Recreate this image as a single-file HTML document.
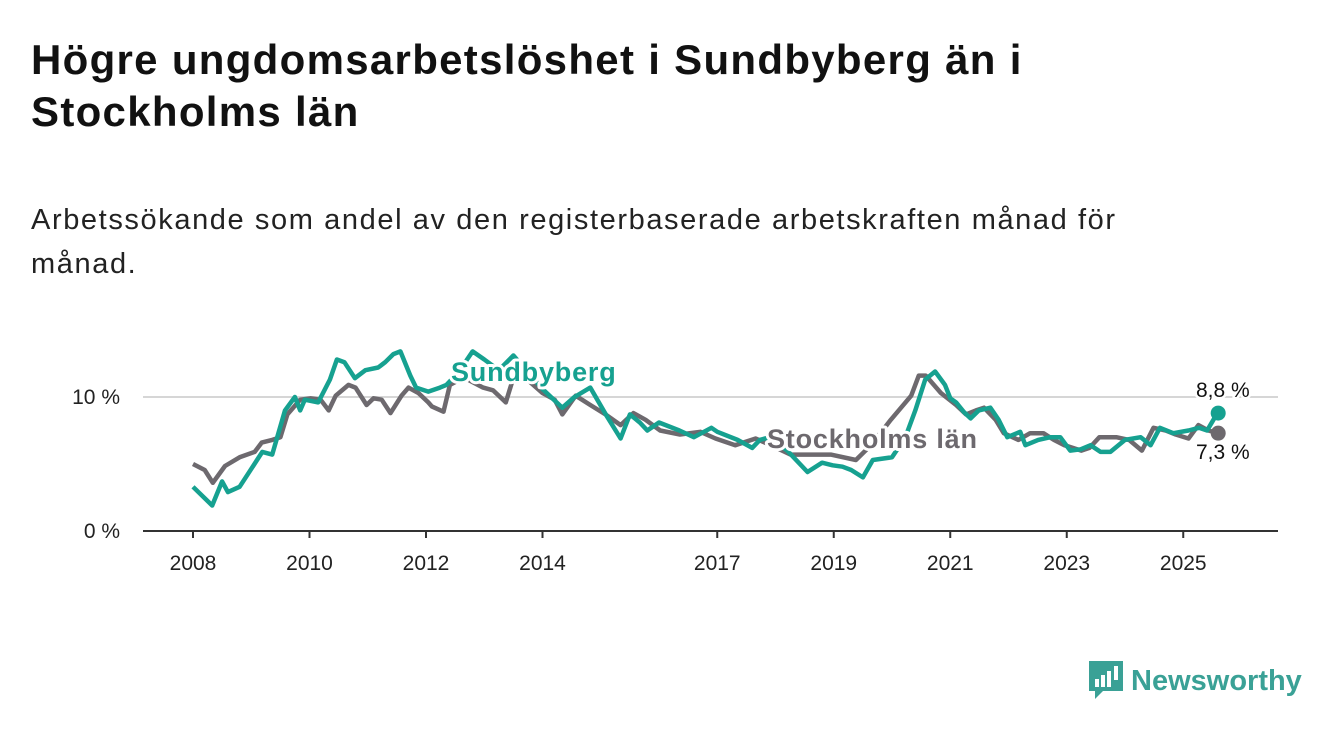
<!DOCTYPE html>
<html><head><meta charset="utf-8">
<style>
body{margin:0;width:1340px;height:734px;background:#fff;font-family:"Liberation Sans",sans-serif;overflow:hidden;position:relative;color:#111}
h1{position:absolute;left:31px;top:34px;margin:0;font-size:42px;line-height:52px;font-weight:bold;width:1100px;letter-spacing:1.3px}
.sub{position:absolute;left:31px;top:198px;margin:0;font-size:29px;line-height:44px;width:1170px;color:#222;letter-spacing:1.6px}
svg{position:absolute;left:0;top:0}
</style></head><body>
<h1>Högre ungdomsarbetslöshet i Sundbyberg än i Stockholms län</h1>
<p class="sub">Arbetssökande som andel av den registerbaserade arbetskraften månad för månad.</p>
<svg id="chart" width="1340" height="734"></svg>
<div style="position:absolute;left:1089px;top:661px;height:40px;display:flex;align-items:center">
 <svg width="36" height="40" style="position:static"><path d="M0 0h34v30h-20l-8 8v-8h-6z" fill="#3aa196"/><rect x="6" y="18" width="4" height="8" fill="#fff"/><rect x="12" y="14" width="4" height="12" fill="#fff"/><rect x="18" y="10" width="4" height="16" fill="#fff"/><rect x="25" y="5" width="4" height="14" fill="#fff"/></svg>
 <span style="font-size:29px;font-weight:bold;color:#3aa196;margin-left:6px">Newsworthy</span>
</div>
<script>
const xTicks=[2008,2010,2012,2014,2017,2019,2021,2023,2025];
const yTicks=[0,10];
const sbYears=[2008.0,2008.33,2008.5,2008.6,2008.8,2008.98,2009.19,2009.36,2009.58,2009.75,2009.84,2009.92,2010.15,2010.35,2010.47,2010.6,2010.78,2010.96,2011.18,2011.3,2011.44,2011.56,2011.73,2011.83,2012.04,2012.24,2012.35,2012.55,2012.8,2013.0,2013.25,2013.5,2013.8,2014.0,2014.34,2014.55,2014.82,2015.1,2015.34,2015.5,2015.67,2015.8,2016.0,2016.35,2016.6,2016.9,2017.0,2017.35,2017.6,2017.73,2017.9,2018.2,2018.55,2018.8,2018.98,2019.15,2019.3,2019.5,2019.67,2020.0,2020.23,2020.4,2020.57,2020.74,2020.91,2021.0,2021.1,2021.23,2021.35,2021.49,2021.69,2021.83,2021.98,2022.2,2022.29,2022.51,2022.72,2022.89,2023.06,2023.24,2023.41,2023.58,2023.75,2024.0,2024.27,2024.44,2024.6,2024.83,2025.09,2025.27,2025.41,2025.6];
const sbValues=[3.3,1.9,3.7,2.9,3.3,4.5,5.9,5.7,9.0,10.0,9.0,9.8,9.6,11.3,12.8,12.6,11.4,12.0,12.2,12.6,13.2,13.4,11.6,10.7,10.4,10.7,10.9,11.8,13.4,12.8,12.0,13.1,11.6,10.6,9.2,10.0,10.7,8.6,6.9,8.7,8.1,7.5,8.1,7.5,7.0,7.7,7.4,6.8,6.2,6.8,7.0,6.0,4.4,5.1,4.9,4.8,4.55,4.0,5.3,5.5,7.0,9.0,11.3,11.9,10.9,9.9,9.6,8.9,8.4,9.0,9.2,8.3,7.0,7.4,6.4,6.8,7.0,7.0,6.0,6.1,6.4,5.9,5.9,6.8,7.0,6.4,7.7,7.3,7.5,7.7,7.5,8.9,8.9,8.8];
const stYears=[2008.0,2008.2,2008.34,2008.55,2008.8,2009.06,2009.18,2009.36,2009.5,2009.62,2009.84,2010.02,2010.19,2010.33,2010.45,2010.67,2010.79,2010.98,2011.1,2011.24,2011.39,2011.58,2011.7,2011.87,2012.04,2012.1,2012.3,2012.41,2012.58,2012.72,2012.98,2013.15,2013.37,2013.49,2013.66,2014.0,2014.21,2014.34,2014.57,2014.82,2015.08,2015.34,2015.56,2015.77,2016.02,2016.36,2016.71,2016.97,2017.31,2017.66,2017.92,2018.26,2018.6,2018.95,2019.38,2019.64,2019.98,2020.33,2020.46,2020.58,2020.84,2021.1,2021.27,2021.44,2021.58,2021.78,2021.92,2022.17,2022.37,2022.6,2022.78,2022.96,2023.25,2023.39,2023.56,2023.85,2024.07,2024.29,2024.49,2024.7,2024.87,2025.09,2025.26,2025.43,2025.6];
const stValues=[5.0,4.55,3.6,4.85,5.5,5.9,6.6,6.8,7.0,8.7,9.8,9.9,9.8,9.0,10.1,10.9,10.7,9.4,9.9,9.8,8.8,10.1,10.7,10.3,9.6,9.3,8.9,10.9,11.3,11.3,10.7,10.5,9.6,11.3,11.6,10.3,9.8,8.7,10.1,9.4,8.7,7.9,8.8,8.3,7.5,7.2,7.4,6.9,6.4,6.9,6.4,5.7,5.7,5.7,5.3,6.4,8.3,10.1,11.6,11.6,10.3,9.4,8.7,9.0,9.2,8.3,7.3,6.8,7.3,7.3,6.8,6.4,6.0,6.2,7.0,7.0,6.8,6.0,7.7,7.5,7.2,6.9,7.9,7.5,7.3];
const NS="http://www.w3.org/2000/svg";
const svg=document.getElementById('chart');
const X=y=>193+(y-2008)*58.25;
const Y=v=>531-v*13.4;
function el(t,a,p){const e=document.createElementNS(NS,t);for(const k in a)e.setAttribute(k,a[k]);(p||svg).appendChild(e);return e;}
let g=el('line',{x1:143,x2:1278,y1:Y(10),y2:Y(10),stroke:'#d6d6d6','stroke-width':2});


let ax=el('line',{x1:143,x2:1278,y1:Y(0),y2:Y(0),stroke:'#333','stroke-width':2});


yTicks.forEach(v=>{const t=el('text',{x:120,y:Y(v)+7,'text-anchor':'end','font-size':21,fill:'#222'});t.textContent=v+' %';

});
xTicks.forEach(yr=>{const l=el('line',{x1:X(yr),x2:X(yr),y1:531,y2:538,stroke:'#333','stroke-width':2});


const t=el('text',{x:X(yr),y:570,'text-anchor':'middle','font-size':21,fill:'#222'});t.textContent=yr;

});
function line(ys,vs,col,name){const d=ys.map((y,i)=>(i?'L':'M')+X(y).toFixed(1)+' '+Y(vs[i]).toFixed(1)).join('');
const p=el('path',{d:d,fill:'none',stroke:col,'stroke-width':4.5,'stroke-linejoin':'round'});


const c=el('circle',{cx:X(ys[ys.length-1]),cy:Y(vs[vs.length-1]),r:7.5,fill:col});

}
line(stYears,stValues,'#6d696e','stockholm-line');
line(sbYears,sbValues,'#16a190','sundbyberg-line');
function lab(txt,x,y,col,bold,name,size){const t=el('text',{x:x,y:y,'font-size':size,'font-weight':bold?'bold':'normal',fill:col,stroke:'#fff','stroke-width':bold?6:5,'paint-order':'stroke','stroke-linejoin':'round','letter-spacing':bold?0.8:0});t.textContent=txt;

}
lab('Sundbyberg',451,381,'#16a190',true,'sundbyberg-label',27);
lab('Stockholms län',767,448,'#6d696e',true,'stockholm-label',27);
lab('8,8 %',1196,397,'#111',false,'sundbyberg-last-value',21);
lab('7,3 %',1196,459,'#111',false,'stockholm-last-value',21);
</script>
</body></html>
